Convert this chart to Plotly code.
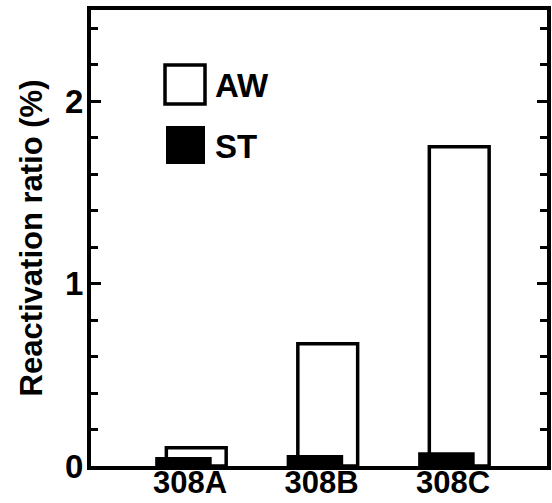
import plotly.graph_objects as go

categories = ["308A", "308B", "308C"]
aw_values = [0.10, 0.67, 1.75]
st_values = [0.05, 0.06, 0.075]
y_tick_vals = [0, 1, 2]
y_tick_text = ["0", "1", "2"]
legend_labels = ["AW", "ST"]

FONT = dict(family="Liberation Sans, Arial, sans-serif", color="black", weight="bold")

W, H = 552, 503
L, R, T, B = 91, 5, 10, 37
pw, ph = W - L - R, H - T - B

def px_x(x):
    return (x - L) / pw

def px_y(y):
    return (H - B - y) / ph

fig = go.Figure()
fig.add_trace(go.Bar(
    x=categories, y=aw_values, name=legend_labels[0],
    offset=-0.18, width=0.455,
    marker=dict(color="white", line=dict(color="black", width=3.5)),
))
fig.add_trace(go.Bar(
    x=categories, y=st_values, name=legend_labels[1],
    offset=-0.265, width=0.43,
    marker=dict(color="black", line=dict(color="black", width=0)),
))

shapes = [
    dict(type="rect", xref="paper", yref="paper",
         x0=px_x(165), x1=px_x(205), y0=px_y(104), y1=px_y(65),
         fillcolor="white", line=dict(color="black", width=3.5)),
    dict(type="rect", xref="paper", yref="paper",
         x0=px_x(166), x1=px_x(205), y0=px_y(164), y1=px_y(126),
         fillcolor="black", line=dict(color="black", width=0)),
]
annotations = [
    dict(text=legend_labels[0], xref="paper", yref="paper", x=px_x(213), y=px_y(86),
         xanchor="left", yanchor="middle", showarrow=False, font=dict(size=33, **FONT)),
    dict(text=legend_labels[1], xref="paper", yref="paper", x=px_x(213), y=px_y(146),
         xanchor="left", yanchor="middle", showarrow=False, font=dict(size=33, **FONT)),
]

fig.update_layout(
    width=W, height=H,
    margin=dict(l=L, r=R, t=T, b=B, pad=0, autoexpand=False),
    paper_bgcolor="white", plot_bgcolor="white",
    barmode="overlay", showlegend=False,
    shapes=shapes, annotations=annotations,
    font=dict(size=30, **FONT),
)
fig.update_xaxes(
    type="category", range=[-0.753, 2.715], automargin=False,
    showline=True, linecolor="black", linewidth=4, mirror=True,
    ticks="", showgrid=False, zeroline=False,
    tickfont=dict(size=31, **FONT), ticklabelstandoff=-14,
)
fig.update_yaxes(
    range=[0, 2.5], tickvals=y_tick_vals, ticktext=y_tick_text, automargin=False,
    showline=True, linecolor="black", linewidth=4, mirror="ticks",
    ticks="inside", ticklen=10, tickwidth=3, tickcolor="black",
    minor=dict(dtick=0.2, tick0=0, ticks="inside", ticklen=7, tickwidth=3, tickcolor="black", showgrid=False),
    showgrid=False, zeroline=False,
    tickfont=dict(size=33, **FONT), ticklabelstandoff=-3,
    title=dict(text="Reactivation ratio (%)", font=dict(size=31, **FONT), standoff=14),
)

fig.write_html("out.html")
